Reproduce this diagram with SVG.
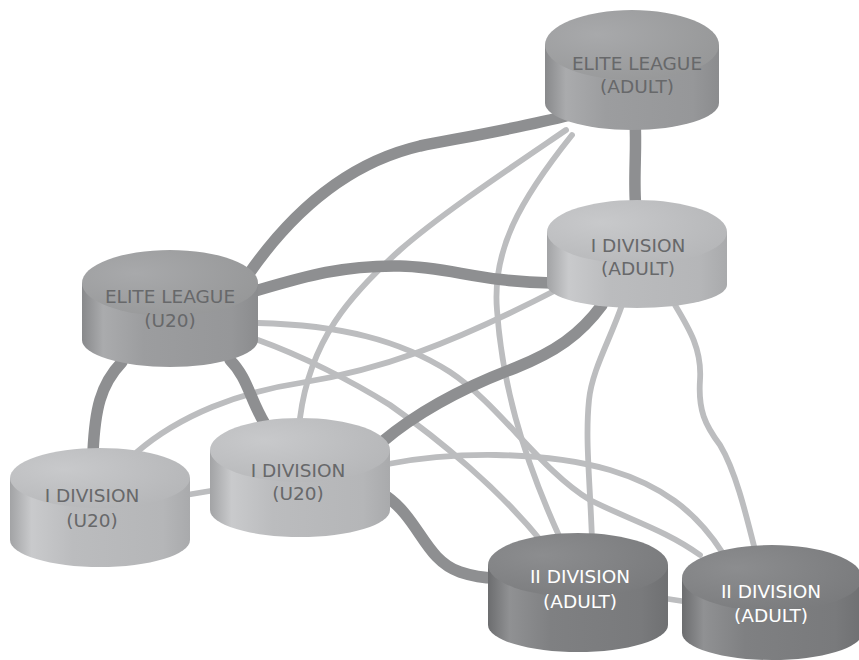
<svg xmlns="http://www.w3.org/2000/svg" width="859" height="660" viewBox="0 0 859 660">
<style>
.thick{fill:none;stroke:#8e8f91;stroke-width:11.5;stroke-linecap:round}
.thin{fill:none;stroke:#bcbdbf;stroke-width:5.8;stroke-linecap:round}
text{font-family:"DejaVu Sans","Verdana",sans-serif;font-size:18.5px;text-anchor:middle}
.tl{fill:#67686a}
.td{fill:#ffffff}
</style>
<defs>
<linearGradient id="sideL" x1="0" y1="0" x2="1" y2="0">
<stop offset="0" stop-color="#a2a3a5"/><stop offset="0.12" stop-color="#c9cacc"/><stop offset="0.35" stop-color="#bbbcbe"/><stop offset="0.85" stop-color="#b5b6b8"/><stop offset="1" stop-color="#a9aaac"/>
</linearGradient>
<radialGradient id="topL" cx="0.3" cy="0.35" r="0.75">
<stop offset="0" stop-color="#c8c9cb"/><stop offset="1" stop-color="#b6b7b9"/>
</radialGradient>
<linearGradient id="sideE" x1="0" y1="0" x2="1" y2="0">
<stop offset="0" stop-color="#88898b"/><stop offset="0.12" stop-color="#aaabad"/><stop offset="0.35" stop-color="#9c9d9f"/><stop offset="0.85" stop-color="#969799"/><stop offset="1" stop-color="#8b8c8e"/>
</linearGradient>
<radialGradient id="topE" cx="0.3" cy="0.35" r="0.75">
<stop offset="0" stop-color="#a8a9ab"/><stop offset="1" stop-color="#979899"/>
</radialGradient>
<linearGradient id="sideD" x1="0" y1="0" x2="1" y2="0">
<stop offset="0" stop-color="#6c6d6f"/><stop offset="0.12" stop-color="#909193"/><stop offset="0.35" stop-color="#7f8082"/><stop offset="0.85" stop-color="#797a7c"/><stop offset="1" stop-color="#6f7072"/>
</linearGradient>
<radialGradient id="topD" cx="0.3" cy="0.35" r="0.75">
<stop offset="0" stop-color="#8c8d8f"/><stop offset="1" stop-color="#7a7b7d"/>
</radialGradient>
</defs>
<rect width="859" height="660" fill="#ffffff"/>
<g id="connectors">
<path class="thin" d="M566,130 C500,175 440,215 400,250 C350,295 310,340 300,418"/>
<path class="thin" d="M572,135 C520,200 492,250 497,310 C502,380 520,450 560,538"/>
<path class="thin" d="M137,452 C180,415 240,392 300,383 C380,370 450,345 560,288"/>
<path class="thin" d="M622,305 C610,340 592,370 589,400 C585,440 590,480 592,540"/>
<path class="thin" d="M675,305 C690,330 702,350 700,380 C698,410 705,425 720,445 C735,470 745,510 755,550"/>
<path class="thin" d="M258,340 C300,355 350,380 390,405 C440,440 500,490 542,542"/>
<path class="thin" d="M258,323 C340,325 400,340 450,372 C500,405 540,470 590,500 C630,520 665,530 700,555"/>
<path class="thin" d="M388,464 C450,452 540,450 610,470 C660,485 695,510 722,552"/>
<path class="thin" d="M186,495 L216,490"/>
<path class="thin" d="M662,598 L688,602"/>
<path class="thick" d="M570,115 C520,128 460,138 420,146 C360,160 300,200 248,275"/>
<path class="thick" d="M635,120 C637,150 633,180 636,210"/>
<path class="thick" d="M252,292 C300,278 340,265 400,266 C450,267 480,282 552,283"/>
<path class="thick" d="M122,362 C100,385 95,410 93,452"/>
<path class="thick" d="M230,360 C248,378 250,400 265,424"/>
<path class="thick" d="M382,442 C420,410 470,385 515,368 C555,352 580,335 602,305"/>
<path class="thick" d="M386,496 C420,520 425,560 460,572 C475,577 485,578 495,578"/>
</g>
<g id="n1">
<path d="M545,45 L545,103 A87,27 0 0 0 719,103 L719,45 Z" fill="url(#sideE)"/>
<ellipse cx="632" cy="45" rx="87" ry="35" fill="url(#topE)"/>
<text class="tl" x="637" y="70">ELITE LEAGUE</text>
<text class="tl" x="637" y="93">(ADULT)</text>
</g>
<g id="n2">
<path d="M547,232 L547,285 A90,23 0 0 0 727,285 L727,232 Z" fill="url(#sideL)"/>
<ellipse cx="637" cy="232" rx="90" ry="32" fill="url(#topL)"/>
<text class="tl" x="638" y="252">I DIVISION</text>
<text class="tl" x="638" y="275">(ADULT)</text>
</g>
<g id="n3">
<path d="M82,283 L82,340 A88,27 0 0 0 258,340 L258,283 Z" fill="url(#sideE)"/>
<ellipse cx="170" cy="283" rx="88" ry="33" fill="url(#topE)"/>
<text class="tl" x="170" y="303">ELITE LEAGUE</text>
<text class="tl" x="170" y="327">(U20)</text>
</g>
<g id="n4">
<path d="M10,478 L10,540 A90,27 0 0 0 190,540 L190,478 Z" fill="url(#sideL)"/>
<ellipse cx="100" cy="478" rx="90" ry="30" fill="url(#topL)"/>
<text class="tl" x="92" y="502">I DIVISION</text>
<text class="tl" x="92" y="527">(U20)</text>
</g>
<g id="n5">
<path d="M210,450 L210,510 A90,27 0 0 0 390,510 L390,450 Z" fill="url(#sideL)"/>
<ellipse cx="300" cy="450" rx="90" ry="32" fill="url(#topL)"/>
<text class="tl" x="298" y="477">I DIVISION</text>
<text class="tl" x="298" y="500">(U20)</text>
</g>
<g id="n6">
<path d="M488,565 L488,625 A90,27 0 0 0 668,625 L668,565 Z" fill="url(#sideD)"/>
<ellipse cx="578" cy="565" rx="90" ry="32" fill="url(#topD)"/>
<text class="td" x="580" y="583">II DIVISION</text>
<text class="td" x="580" y="608">(ADULT)</text>
</g>
<g id="n7">
<path d="M682,578 L682,633 A90,27 0 0 0 862,633 L862,578 Z" fill="url(#sideD)"/>
<ellipse cx="772" cy="578" rx="90" ry="33" fill="url(#topD)"/>
<text class="td" x="771" y="598">II DIVISION</text>
<text class="td" x="771" y="622">(ADULT)</text>
</g>
</svg>
